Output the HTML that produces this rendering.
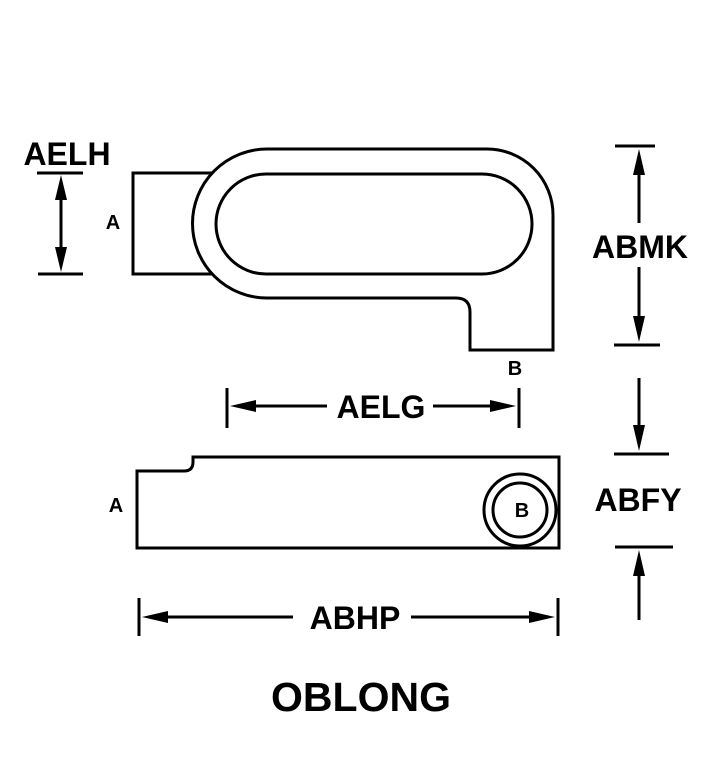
<!DOCTYPE html>
<html><head><style>body{margin:0;background:#fff}svg{display:block}</style></head><body>
<svg width="720" height="770" viewBox="0 0 720 770" xmlns="http://www.w3.org/2000/svg">
<g fill="none" stroke="#000" stroke-width="3">
<rect x="133" y="173" width="100" height="101" fill="#fff"/>
<path d="M267,149 L487,149 A66,66 0 0 1 553,215 L553,350 L470,350 L470,312 Q470,298 456,298 L267,298 A74.5,74.5 0 0 1 267,149 Z" fill="#fff"/>
<rect x="216" y="174" width="316" height="100" rx="50" ry="50"/>
<path d="M137,548 L137,471 L184,471 Q193,471 193,462 L193,457 L559,457 L559,548 Z"/>
<circle cx="520" cy="510" r="36"/>
<circle cx="520" cy="510" r="27"/>
<line x1="37" y1="173" x2="83" y2="173"/><line x1="38" y1="274" x2="83" y2="274"/>
<line x1="61" y1="190" x2="61" y2="258"/>
<line x1="615" y1="146" x2="655" y2="146"/><line x1="614" y1="345" x2="660" y2="345"/>
<line x1="639" y1="223" x2="639" y2="165"/>
<line x1="639" y1="267" x2="639" y2="325"/>
<line x1="639" y1="378" x2="639" y2="435"/>
<line x1="614" y1="454" x2="669" y2="454"/><line x1="615" y1="547" x2="673" y2="547"/>
<line x1="639" y1="620" x2="639" y2="565"/>
<line x1="227" y1="388" x2="227" y2="428"/><line x1="519" y1="388" x2="519" y2="428"/>
<line x1="327" y1="406" x2="245" y2="406"/>
<line x1="433" y1="406" x2="500" y2="406"/>
<line x1="139" y1="598" x2="139" y2="636"/><line x1="558" y1="598" x2="558" y2="636"/>
<line x1="293" y1="617" x2="160" y2="617"/>
<line x1="411" y1="617" x2="538" y2="617"/>
</g>
<g fill="#000">
<polygon points="61,175 55,200 67,200"/>
<polygon points="61,272 55,247 67,247"/>
<polygon points="639,149 633,175 645,175"/>
<polygon points="639,342 633,316 645,316"/>
<polygon points="639,451 633,425 645,425"/>
<polygon points="639,550 633,576 645,576"/>
<polygon points="230,406 256,400 256,412"/>
<polygon points="516,406 490,400 490,412"/>
<polygon points="142,617 168,611 168,623"/>
<polygon points="555,617 529,611 529,623"/>
</g>
<g font-family="Liberation Sans, sans-serif" font-weight="bold" fill="#000" text-anchor="middle">
<text x="67" y="165" font-size="32">AELH</text>
<text x="640" y="258" font-size="32">ABMK</text>
<text x="638" y="511" font-size="32">ABFY</text>
<text x="381" y="418" font-size="32">AELG</text>
<text x="355" y="629" font-size="32">ABHP</text>
<text x="361" y="711" font-size="41">OBLONG</text>
<text x="113" y="229" font-size="20">A</text>
<text x="116" y="512" font-size="20">A</text>
<text x="515" y="375" font-size="20">B</text>
<text x="522" y="517" font-size="20">B</text>
</g>
</svg>
</body></html>
